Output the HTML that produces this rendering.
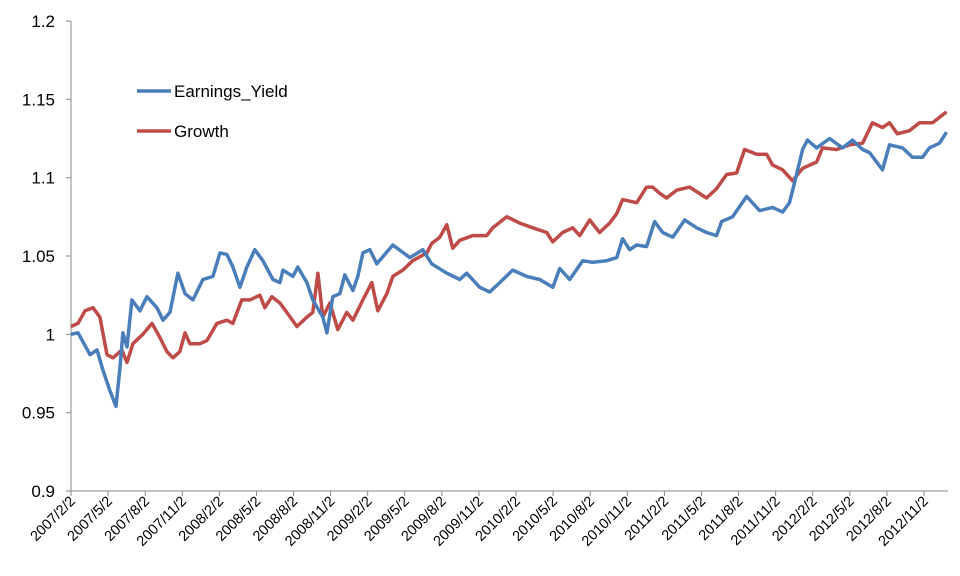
<!DOCTYPE html>
<html><head><meta charset="utf-8"><style>
body{margin:0;background:#fff;}
svg{display:block;font-family:"Liberation Sans",sans-serif;}
</style></head><body>
<svg id="chart" width="960" height="576" xmlns="http://www.w3.org/2000/svg"></svg>
<script>
const tickLabels=["2007/2/2","2007/5/2","2007/8/2","2007/11/2","2008/2/2","2008/5/2","2008/8/2","2008/11/2","2009/2/2","2009/5/2","2009/8/2","2009/11/2","2010/2/2","2010/5/2","2010/8/2","2010/11/2","2011/2/2","2011/5/2","2011/8/2","2011/11/2","2012/2/2","2012/5/2","2012/8/2","2012/11/2"];
const yTicks=[0.9,0.95,1,1.05,1.1,1.15,1.2];
const yTickLabels=["0.9","0.95","1","1.05","1.1","1.15","1.2"];
const eyMonths=[0,0.57,1.54,2.10,2.59,3.15,3.64,3.96,4.20,4.53,4.93,5.58,6.14,6.95,7.44,8.00,8.65,9.22,9.86,10.67,11.48,12.05,12.61,13.10,13.66,14.23,14.87,15.52,16.33,16.90,17.14,17.95,18.35,19.08,19.56,20.37,20.70,21.18,21.75,22.15,22.80,23.20,23.61,24.17,24.74,26.03,27.41,28.46,29.18,30.40,31.45,32.01,33.06,33.87,34.68,35.73,36.86,37.91,38.97,39.53,40.34,41.39,42.20,43.33,44.14,44.62,45.19,45.76,46.56,47.21,47.86,48.67,49.64,50.61,51.41,52.22,52.63,53.52,54.65,55.70,56.75,57.56,58.12,58.53,59.18,59.58,60.31,61.36,62.41,63.22,64.03,64.59,65.64,66.21,67.26,68.07,68.88,69.44,70.25,70.82];
const eyValues=[1.000,1.001,0.987,0.990,0.977,0.964,0.954,0.979,1.001,0.992,1.022,1.015,1.024,1.017,1.009,1.014,1.039,1.026,1.022,1.035,1.037,1.052,1.051,1.043,1.030,1.043,1.054,1.047,1.035,1.033,1.041,1.037,1.043,1.033,1.022,1.011,1.001,1.024,1.026,1.038,1.028,1.037,1.052,1.054,1.045,1.057,1.049,1.054,1.045,1.039,1.035,1.039,1.030,1.027,1.033,1.041,1.037,1.035,1.030,1.042,1.035,1.047,1.046,1.047,1.049,1.061,1.054,1.057,1.056,1.072,1.065,1.062,1.073,1.068,1.065,1.063,1.072,1.075,1.088,1.079,1.081,1.078,1.084,1.097,1.118,1.124,1.119,1.125,1.119,1.124,1.118,1.116,1.105,1.121,1.119,1.113,1.113,1.119,1.122,1.129];
const grMonths=[0,0.57,1.13,1.78,2.34,2.91,3.40,4.12,4.53,5.01,5.82,6.55,7.19,7.76,8.25,8.81,9.22,9.62,10.43,10.99,11.80,12.61,13.10,13.82,14.47,15.28,15.68,16.25,16.90,17.46,18.27,19.08,19.56,19.97,20.37,20.94,21.58,22.31,22.80,23.61,24.33,24.82,25.55,26.03,26.84,27.65,28.78,29.18,29.83,30.40,30.88,31.45,32.50,33.63,34.12,35.25,36.30,37.35,38.48,38.97,39.77,40.58,41.15,41.96,42.76,43.57,44.14,44.62,45.76,46.56,47.05,47.62,48.18,48.99,50.04,51.41,52.22,53.03,53.84,54.49,55.46,56.27,56.75,57.56,58.37,59.18,60.31,60.79,61.93,62.98,64.03,64.83,65.64,66.21,66.85,67.82,68.64,69.69,70.82];
const grValues=[1.005,1.007,1.015,1.017,1.011,0.987,0.985,0.990,0.982,0.994,1.000,1.007,0.998,0.989,0.985,0.989,1.001,0.994,0.994,0.996,1.007,1.009,1.007,1.022,1.022,1.025,1.017,1.024,1.020,1.014,1.005,1.011,1.014,1.039,1.011,1.020,1.003,1.014,1.009,1.022,1.033,1.015,1.026,1.037,1.041,1.047,1.052,1.058,1.062,1.070,1.055,1.060,1.063,1.063,1.068,1.075,1.071,1.068,1.065,1.059,1.065,1.068,1.063,1.073,1.065,1.071,1.077,1.086,1.084,1.094,1.094,1.090,1.087,1.092,1.094,1.087,1.093,1.102,1.103,1.118,1.115,1.115,1.108,1.105,1.098,1.106,1.110,1.119,1.118,1.121,1.122,1.135,1.132,1.135,1.128,1.130,1.135,1.135,1.142];

const NS="http://www.w3.org/2000/svg";
const svg=document.getElementById('chart');
const X0=71,TICKSTEP=(924-71)/23,Y0=491,Y1=21;
function xs(m){return X0+m*TICKSTEP/3;}
function ys(v){return Y0-(v-0.9)/0.3*(Y0-Y1);}
function mk(tag,attrs){const e=document.createElementNS(NS,tag);for(const k in attrs)e.setAttribute(k,attrs[k]);svg.appendChild(e);return e;}

let e=mk('line',{x1:X0,y1:Y1,x2:X0,y2:Y0,stroke:'#888','stroke-width':1});


e=mk('line',{x1:X0,y1:Y0,x2:948,y2:Y0,stroke:'#888','stroke-width':1});


yTicks.forEach((v,i)=>{
  const y=ys(v);
  let t=mk('line',{x1:X0-5,y1:y,x2:X0,y2:y,stroke:'#888'});
  
  
  let l=mk('text',{x:55,y:y+6,'text-anchor':'end','font-size':17,fill:'#000'});
  l.textContent=yTickLabels[i];
  
  
});
tickLabels.forEach((s,i)=>{
  const x=X0+i*TICKSTEP;
  let t=mk('line',{x1:x,y1:Y0,x2:x,y2:Y0+5,stroke:'#888'});
  
  
  let l=mk('text',{x:x+5,y:Y0+11,'text-anchor':'end','font-size':14.5,fill:'#000',transform:`rotate(-45 ${x+5} ${Y0+11})`});
  l.textContent=s;
  
  
});
function series(ms,vs,color,name){
  const d=ms.map((m,i)=>(i?'L':'M')+xs(m).toFixed(1)+' '+ys(vs[i]).toFixed(1)).join(' ');
  const p=mk('path',{d:d,fill:'none',stroke:color,'stroke-width':3.5,'stroke-linejoin':'round'});
  
  
}
series(grMonths,grValues,'#be4b48','growth-line');
series(eyMonths,eyValues,'#4a7ebb','earnings-yield-line');
[['Earnings_Yield','#4a7ebb',91],['Growth','#be4b48',131]].forEach(([n,c,y])=>{
  let l=mk('line',{x1:137,y1:y,x2:171,y2:y,stroke:c,'stroke-width':3.5});
  
  
  let t=mk('text',{x:174,y:y+6,'font-size':17,fill:'#000'});
  t.textContent=n;
  
  
});
</script>
</body></html>
